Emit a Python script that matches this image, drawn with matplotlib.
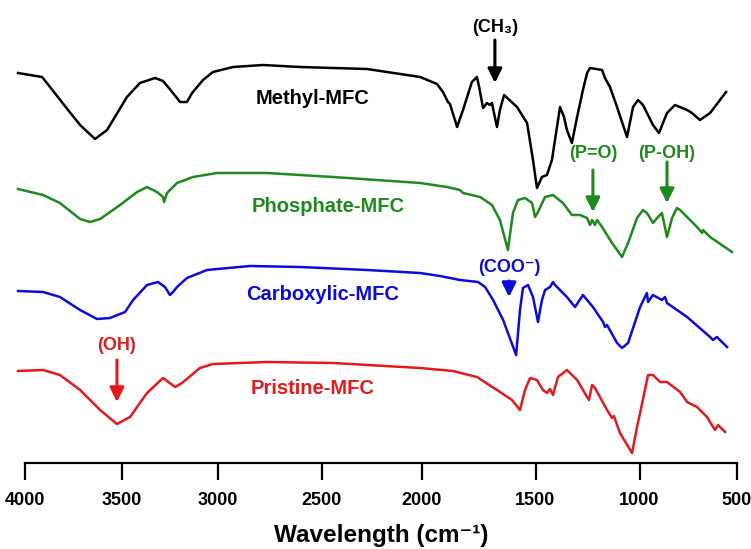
import numpy as np
import matplotlib.pyplot as plt

plt.rcParams['font.family'] = ['Liberation Sans', 'DejaVu Sans']
plt.rcParams['font.weight'] = 'bold'

# wavenumber axis of the original figure is hand drawn: tick spacing is not even
WN_TICKS = [4000, 3500, 3000, 2500, 2000, 1500, 1000, 500]
TICK_POS = [0, 97, 192.5, 296.5, 396.5, 510.5, 614.5, 712]
WN_EXT = np.array([4500] + WN_TICKS + [0], float)
POS_EXT = np.array([-97] + TICK_POS + [810], float)

# FTIR spectra, stacked (arbitrary units)
methyl_wn = [4036, 3912, 3871, 3778, 3716, 3639, 3577, 3474, 3406, 3327, 3285, 3233,
             3196, 3160, 3133, 3076, 3024, 2925, 2781, 2603, 2272, 2007, 1932, 1906,
             1884, 1875, 1844, 1818, 1779, 1757, 1748, 1730, 1713, 1700, 1691, 1682,
             1669, 1656, 1638, 1581, 1537, 1511, 1493, 1469, 1445, 1421, 1382, 1363,
             1349, 1325, 1300, 1272, 1252, 1238, 1180, 1166, 1142, 1108, 1060, 1031,
             1007, 982, 931, 900, 859, 818, 756, 731, 690, 638, 556]
methyl_t = [390, 386, 376, 353, 338, 324, 333, 366, 380, 385, 382, 370,
            361, 361, 370, 383, 391, 396, 398, 396, 394, 386, 379, 371,
            361, 359, 336, 353, 381, 386, 377, 355, 360, 358, 360, 350,
            336, 353, 368, 356, 340, 303, 275, 286, 288, 303, 356, 346,
            333, 320, 346, 373, 390, 395, 393, 385, 376, 356, 326, 356,
            363, 358, 338, 330, 350, 358, 353, 350, 343, 350, 371]

phosphate_wn = [4036, 3907, 3820, 3716, 3665, 3613, 3510, 3421, 3369, 3317, 3285, 3280,
                3264, 3212, 3128, 3003, 2762, 2442, 2007, 1888, 1831, 1818, 1743, 1691,
                1656, 1621, 1599, 1577, 1546, 1515, 1502, 1488, 1454, 1416, 1368, 1325,
                1286, 1252, 1238, 1228, 1214, 1204, 1180, 1132, 1084, 1055, 1012, 982,
                962, 946, 931, 905, 885, 859, 833, 808, 792, 756, 705, 679, 674, 638, 526]
phosphate_t = [274, 268, 260, 244, 241, 244, 258, 271, 276, 271, 266, 261,
               270, 280, 286, 290, 290, 286, 280, 276, 273, 270, 266, 258,
               243, 213, 250, 263, 265, 260, 246, 251, 266, 268, 260, 248,
               248, 245, 238, 243, 238, 243, 236, 220, 206, 220, 245, 253,
               250, 245, 240, 246, 250, 226, 245, 255, 253, 246, 236, 230, 233, 226, 211]

carboxylic_wn = [4036, 3907, 3820, 3716, 3629, 3562, 3484, 3442, 3369, 3312, 3275, 3249,
                 3233, 3212, 3160, 3055, 2844, 2603, 2272, 2007, 1919, 1831, 1752, 1721,
                 1686, 1642, 1585, 1568, 1555, 1533, 1511, 1488, 1469, 1454, 1430, 1416,
                 1406, 1349, 1310, 1272, 1224, 1175, 1166, 1156, 1108, 1084, 1055, 997,
                 962, 956, 931, 885, 869, 859, 756, 638, 623, 603, 551]
carboxylic_t = [172, 171, 166, 153, 144, 145, 151, 163, 178, 181, 176, 168,
                171, 176, 185, 193, 197, 196, 193, 190, 187, 183, 181, 176,
                163, 143, 108, 153, 175, 178, 166, 141, 163, 173, 176, 181,
                178, 166, 156, 168, 156, 141, 136, 138, 120, 115, 120, 156,
                170, 161, 168, 163, 166, 160, 146, 126, 123, 126, 116]

pristine_wn = [4036, 3907, 3820, 3716, 3613, 3526, 3458, 3369, 3285, 3222, 3186, 3092,
               3024, 2762, 2442, 2007, 1862, 1757, 1669, 1603, 1568, 1546, 1524, 1493,
               1464, 1445, 1430, 1416, 1392, 1349, 1300, 1252, 1243, 1228, 1214, 1156,
               1132, 1123, 1094, 1036, 1012, 997, 956, 931, 895, 859, 792, 756,
               705, 654, 613, 597, 561]
pristine_t = [92, 93, 88, 73, 53, 39, 46, 70, 85, 76, 80, 95,
              99, 101, 100, 95, 92, 86, 73, 63, 53, 73, 85, 83,
              73, 70, 74, 68, 86, 93, 83, 66, 63, 78, 75, 53,
              45, 47, 30, 10, 36, 50, 88, 88, 81, 81, 71, 61,
              56, 46, 33, 38, 31]

names = ['Methyl-MFC', 'Phosphate-MFC', 'Carboxylic-MFC', 'Pristine-MFC']
colors = ['black', '#1e8a1e', '#0c0cd8', '#e3191c']
name_wn = [2541, 2467, 2497, 2541]
name_t = [365, 256, 168, 75]

# band assignments: label, colour, wavenumber, label height, arrow tail, arrow head
bands = ['(CH\u2083)', '(P=O)', '(P-OH)', '(COO\u207b)', '(OH)']
band_colors = ['black', '#1e8a1e', '#1e8a1e', '#0c0cd8', '#e3191c']
band_wn = [1678, 1224, 859, 1616, 3526]
band_label_t = [436, 309, 310, 196, 118]
band_tail_t = [423, 293, 301, 182, 103]
band_head_t = [380, 251, 260, 166, 61]


# increasing in wavenumber, so xlim(4000, 500) gives the usual reversed IR axis
def fwd(w):
    return -np.interp(-np.asarray(w, float), -WN_EXT, POS_EXT)


def inv(p):
    return np.interp(-np.asarray(p, float), POS_EXT, WN_EXT)


fig = plt.figure(figsize=(7.51, 5.49), dpi=100)
ax = fig.add_axes([25 / 751, 86 / 549, 712 / 751, 463 / 549])
ax.set_xscale('function', functions=(fwd, inv))

spectra = [(methyl_wn, methyl_t), (phosphate_wn, phosphate_t),
           (carboxylic_wn, carboxylic_t), (pristine_wn, pristine_t)]
for (wn, t), c in zip(spectra, colors):
    ax.plot(wn, t, color=c, lw=1.8, clip_on=False, solid_joinstyle='round')

for n, c, x, y in zip(names, colors, name_wn, name_t):
    ax.text(x, y, n, color=c, fontsize=14.5, fontweight='bold', ha='center', va='center')

for lab, c, x, yl, ya, yb in zip(bands, band_colors, band_wn, band_label_t, band_tail_t, band_head_t):
    ax.text(x, yl, lab, color=c, fontsize=13, fontweight='bold', ha='center', va='center')
    ax.annotate('', xy=(x, yb), xytext=(x, ya),
                arrowprops=dict(arrowstyle='-|>,head_length=0.5,head_width=0.25',
                                color=c, lw=2.2, mutation_scale=17,
                                shrinkA=0, shrinkB=0))

ax.set_xlim(4000, 500)
ax.set_ylim(0, 463)
for s in ['left', 'right', 'top']:
    ax.spines[s].set_visible(False)
ax.spines['bottom'].set_linewidth(1.6)
ax.set_yticks([])
ax.set_xticks(WN_TICKS)
ax.set_xticklabels([str(v) for v in WN_TICKS], fontsize=13, fontweight='bold')
ax.minorticks_off()
ax.tick_params(axis='x', direction='out', length=12, width=1.6, pad=9)
ax.set_xlabel('Wavelength (cm\u207b\u00b9)', fontsize=17.5, fontweight='bold', labelpad=11)

fig.savefig('out.png', dpi=100)
